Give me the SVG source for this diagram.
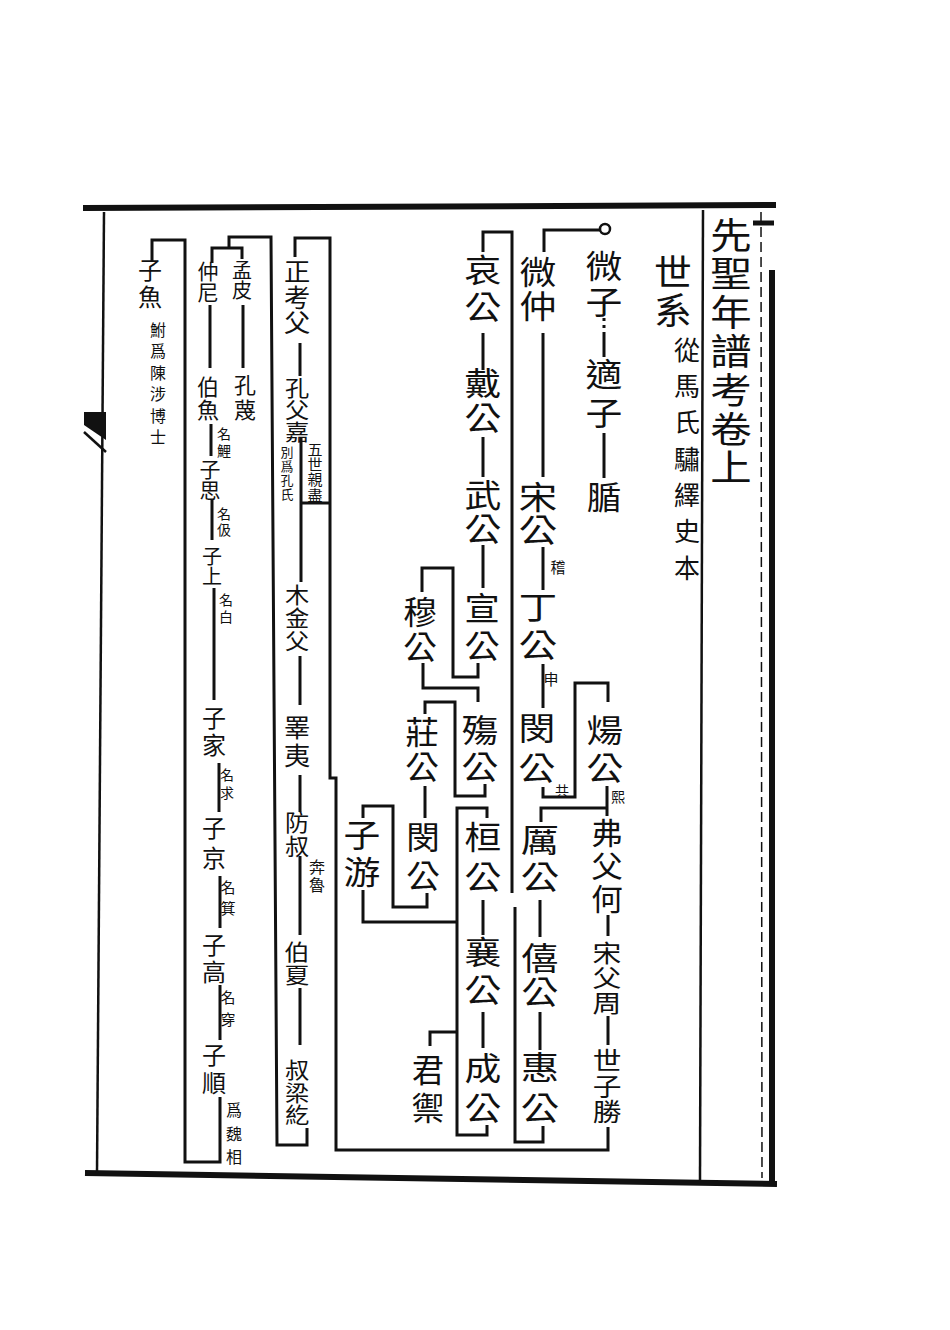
<svg xmlns="http://www.w3.org/2000/svg" width="950" height="1330" viewBox="0 0 950 1330">
<style>
text{font-family:"Noto Sans CJK TC","Noto Sans CJK SC",sans-serif;fill:#111;writing-mode:vertical-rl;text-anchor:start}
.c{stroke:#111;stroke-width:3;fill:none;stroke-linejoin:miter}
.f{stroke:#111;fill:none}
.s36{font-size:36px}.s32{font-size:32px}.s30{font-size:30px}.s26{font-size:26px}.s25{font-size:25px}.s24{font-size:24px}.s23{font-size:23px}.s22{font-size:22px}.s21{font-size:21px}.s20{font-size:20px}.s16{font-size:16px}.s15{font-size:15px}.s14{font-size:14px}.s13{font-size:13px}
</style>
<rect width="950" height="1330" fill="#fff"/>
<g id="frame">
<line class="f" x1="83" y1="208" x2="776" y2="205" stroke-width="6"/>
<line class="f" x1="85" y1="1173" x2="777" y2="1184" stroke-width="6"/>
<line class="f" x1="772" y1="270" x2="772" y2="1185" stroke-width="6"/>
<line class="f" x1="703" y1="210" x2="700" y2="1180" stroke-width="2.5"/>
<line class="f" x1="761" y1="212" x2="762" y2="1178" stroke-width="1.5" stroke-dasharray="10 5"/>
<line class="f" x1="753" y1="223" x2="774" y2="223" stroke-width="5"/>
<line class="f" x1="104" y1="212" x2="97" y2="1173" stroke-width="2.5"/>
<polygon points="84,412 106,412 106,440 84,425" fill="#111"/>
<line class="f" x1="84" y1="432" x2="106" y2="452" stroke-width="2.5"/>
</g>
<g id="title"><text class="s36" transform="translate(731,0) scale(1.15,1)" x="0" y="217" letter-spacing="2.8">先聖年譜考卷上</text></g>
<g id="shixi"><text class="s36" transform="translate(673,0) scale(1.05,1)" x="0" y="254" letter-spacing="2">世系</text></g>
<g id="source"><text class="s26" x="687" y="337" letter-spacing="10.3">從馬氏驌繹史本</text></g>

<g id="connectors">
<circle cx="605" cy="229" r="5" fill="#fff" stroke="#111" stroke-width="2.5"/>
<path class="c" d="M600,230 H544 V252"/>
<path class="c" d="M604,318 V333" stroke-dasharray="3 4"/>
<path class="c" d="M604,333 V357"/>
<path class="c" d="M604,433 V478"/>
<path class="c" d="M543,333 V477"/>
<path class="c" d="M543,547 V590"/>
<path class="c" d="M543,664 V708"/>
<path class="c" d="M543,787 V797 H575 V683 H608 V702"/>
<path class="c" d="M607,786 V816"/>
<path class="c" d="M607,808 H541 V822"/>
<path class="c" d="M540,900 V937"/>
<path class="c" d="M540,1012 V1050"/>
<path class="c" d="M543,1126 V1142 H515 V907"/>
<path class="c" d="M512,893 V232 H483 V252"/>
<path class="c" d="M483,333 V370"/>
<path class="c" d="M483,437 V477"/>
<path class="c" d="M483,545 V588"/>
<path class="c" d="M478,663 V677 H453 V568 H422 V592"/>
<path class="c" d="M423,663 V688 H478 V702"/>
<path class="c" d="M485,784 V796 H455 V702 H425 V714"/>
<path class="c" d="M425,786 V818"/>
<path class="c" d="M427,893 V907 H393 V806 H363 V818"/>
<path class="c" d="M363,890 V922 H457"/>
<path class="c" d="M487,818 V808 H457 V1135 H487 V1125"/>
<path class="c" d="M457,1032 H430 V1046"/>
<path class="c" d="M483,900 V935"/>
<path class="c" d="M483,1012 V1048"/>
<path class="c" d="M608,915 V936"/>
<path class="c" d="M608,1016 V1045"/>
<path class="c" d="M608,1127 V1150 H336 V778 H330 V238 H295 V257"/>
<path class="c" d="M300,343 V376"/>
<path class="c" d="M301,437 V582"/>
<path class="c" d="M301,503 H330"/>
<path class="c" d="M300,656 V705"/>
<path class="c" d="M300,775 V812"/>
<path class="c" d="M300,856 V935"/>
<path class="c" d="M300,988 V1045"/>
<path class="c" d="M307,1128 V1145 H277 L271,237 H229 V248"/>
<path class="c" d="M212,263 V248 H242 V259"/>
<path class="c" d="M243,305 V368"/>
<path class="c" d="M210,305 V368"/>
<path class="c" d="M211,424 V456"/>
<path class="c" d="M212,500 V540"/>
<path class="c" d="M214,588 V700"/>
<path class="c" d="M219,763 V812"/>
<path class="c" d="M220,876 V928"/>
<path class="c" d="M220,985 V1040"/>
<path class="c" d="M220,1097 V1162 H185 V240 H152 V262"/>
</g>

<g id="weizi"><text class="s32" transform="translate(604,0) scale(1.15,1)" x="0" y="250" letter-spacing="4">微子</text></g>
<g id="shizi"><text class="s32" transform="translate(604,0) scale(1.15,1)" x="0" y="358" letter-spacing="7">適子</text></g>
<g id="tu"><text class="s32" transform="translate(604,0) scale(1.1,1)" x="0" y="481">腯</text></g>
<g id="weizhong"><text class="s32" transform="translate(538,0) scale(1.15,1)" x="0" y="256" letter-spacing="2">微仲</text></g>
<g id="songgong"><text class="s32" transform="translate(538,0) scale(1.2,1)" x="0" y="481" letter-spacing="1">宋公</text><text class="s15" x="558" y="559.5">稽</text></g>
<g id="dinggong"><text class="s32" transform="translate(538,0) scale(1.2,1)" x="0" y="591" letter-spacing="6">丁公</text><text class="s15" x="551" y="671.5">申</text></g>
<g id="mingong1"><text class="s32" transform="translate(537,0) scale(1.15,1)" x="0" y="712" letter-spacing="8">閔公</text><text class="s14" x="562" y="784">共</text></g>
<g id="yanggong"><text class="s32" transform="translate(605,0) scale(1.15,1)" x="0" y="714" letter-spacing="6">煬公</text><text class="s14" x="618" y="790">熙</text></g>
<g id="ligong"><text class="s32" transform="translate(540,0) scale(1.2,1)" x="0" y="824" letter-spacing="5">厲公</text></g>
<g id="xigong"><text class="s32" transform="translate(540,0) scale(1.15,1)" x="0" y="942" letter-spacing="2">僖公</text></g>
<g id="huigong"><text class="s32" transform="translate(540,0) scale(1.2,1)" x="0" y="1051" letter-spacing="9">惠公</text></g>
<g id="fufuhe"><text class="s30" transform="translate(607,0) scale(1.05,1)" x="0" y="818" letter-spacing="3">弗父何</text></g>
<g id="songfuzhou"><text class="s24" transform="translate(607,0) scale(1.2,1)" x="0" y="941" letter-spacing="1">宋父周</text></g>
<g id="shizisheng"><text class="s25" transform="translate(607,0) scale(1.15,1)" x="0" y="1048.5" letter-spacing="0.5">世子勝</text></g>
<g id="aigong"><text class="s32" transform="translate(483,0) scale(1.15,1)" x="0" y="254" letter-spacing="5">哀公</text></g>
<g id="daigong"><text class="s32" transform="translate(483,0) scale(1.15,1)" x="0" y="367" letter-spacing="3">戴公</text></g>
<g id="wugong"><text class="s32" transform="translate(483,0) scale(1.15,1)" x="0" y="479" letter-spacing="2">武公</text></g>
<g id="xuangong"><text class="s32" transform="translate(482,0) scale(1.1,1)" x="0" y="592" letter-spacing="6">宣公</text></g>
<g id="mugong"><text class="s32" transform="translate(420,0) scale(1.05,1)" x="0" y="596" letter-spacing="3">穆公</text></g>
<g id="shanggong"><text class="s32" transform="translate(480,0) scale(1.15,1)" x="0" y="714" letter-spacing="5">殤公</text></g>
<g id="zhuanggong"><text class="s32" transform="translate(422,0) scale(1.05,1)" x="0" y="716" letter-spacing="3">莊公</text></g>
<g id="mingong2"><text class="s32" transform="translate(423,0) scale(1.05,1)" x="0" y="821" letter-spacing="7">閔公</text></g>
<g id="ziyou"><text class="s32" transform="translate(362,0) scale(1.15,1)" x="0" y="819" letter-spacing="5">子游</text></g>
<g id="huangong"><text class="s32" transform="translate(483,0) scale(1.15,1)" x="0" y="821" letter-spacing="8">桓公</text></g>
<g id="xianggong"><text class="s32" transform="translate(483,0) scale(1.15,1)" x="0" y="936" letter-spacing="6">襄公</text></g>
<g id="chenggong"><text class="s32" transform="translate(483,0) scale(1.15,1)" x="0" y="1052" letter-spacing="8">成公</text></g>
<g id="junyu"><text class="s32" x="428" y="1054" letter-spacing="6">君禦</text></g>

<g id="zhengkaofu"><text class="s25" transform="translate(297,0) scale(1.05,1)" x="0" y="259.5" letter-spacing="0.5">正考父</text></g>
<g id="kongfujia"><text class="s22" transform="translate(297,0) scale(1.1,1)" x="0" y="377">孔父嘉</text><text class="s13" x="287" y="445.5" letter-spacing="1">別爲孔氏</text><text class="s15" x="315" y="441.5" letter-spacing="0.3">五世親盡</text></g>
<g id="mujinfu"><text class="s22" transform="translate(297,0) scale(1.1,1)" x="0" y="584" letter-spacing="1">木金父</text></g>
<g id="gaoyi"><text class="s25" transform="translate(297,0) scale(1.05,1)" x="0" y="715.5" letter-spacing="3">睪夷</text></g>
<g id="fangshu"><text class="s23" transform="translate(297,0) scale(1.05,1)" x="0" y="810.5" letter-spacing="1">防叔</text><text class="s16" x="317" y="859" letter-spacing="2">奔魯</text></g>
<g id="boxia"><text class="s22" transform="translate(297,0) scale(1.15,1)" x="0" y="941" letter-spacing="1">伯夏</text></g>
<g id="shulianghe"><text class="s22" transform="translate(297,0) scale(1.1,1)" x="0" y="1059" letter-spacing="0.5">叔梁紇</text></g>

<g id="mengpi"><text class="s20" x="242" y="260">孟皮</text></g>
<g id="kongmie"><text class="s22" x="245" y="374" letter-spacing="3">孔蔑</text></g>
<g id="zhongni"><text class="s21" x="208" y="260.5">仲尼</text></g>
<g id="boyu"><text class="s22" x="208" y="376" letter-spacing="1">伯魚</text><text class="s14" x="224" y="427" letter-spacing="3">名鯉</text></g>
<g id="zisi"><text class="s21" x="210" y="458.5">子思</text><text class="s14" x="224" y="507" letter-spacing="2">名伋</text></g>
<g id="zishang"><text class="s20" x="212" y="546">子上</text><text class="s14" x="226" y="593" letter-spacing="3">名白</text></g>
<g id="zijia"><text class="s24" x="214" y="706" letter-spacing="3">子家</text><text class="s14" x="227" y="768" letter-spacing="4">名求</text></g>
<g id="zijing"><text class="s24" x="214" y="816" letter-spacing="6">子京</text><text class="s15" x="228" y="879.5" letter-spacing="6">名箕</text></g>
<g id="zigao"><text class="s24" x="214" y="933" letter-spacing="3">子高</text><text class="s15" x="228" y="989.5" letter-spacing="7">名穿</text></g>
<g id="zishun"><text class="s24" x="214" y="1043" letter-spacing="4">子順</text><text class="s16" x="234" y="1102" letter-spacing="7.5">爲魏相</text></g>
<g id="ziyu"><text class="s24" x="150" y="258" letter-spacing="3">子魚</text><text class="s16" x="158" y="322" letter-spacing="5.4">鮒爲陳涉博士</text></g>
</svg>
